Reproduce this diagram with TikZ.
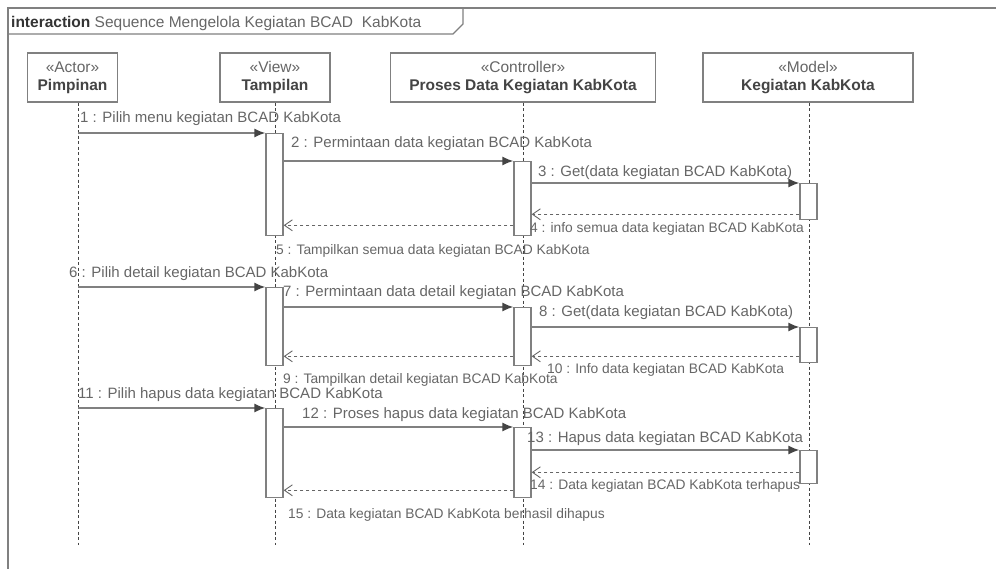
\documentclass[tikz,border=0pt]{standalone}
\usepackage{fontspec}
\setmainfont{Liberation Sans}
\usetikzlibrary{arrows.meta}
\definecolor{linegray}{HTML}{808080}
\definecolor{textgray}{HTML}{666666}
\definecolor{namegray}{HTML}{444444}

\begin{document}
\begin{tikzpicture}[x=1pt,y=-1pt,>=Latex]
\tikzstyle{frame}=[draw=linegray,line width=1.2pt]
\tikzstyle{obj}=[rectangle,draw=linegray,line width=1.3pt,fill=white,minimum height=49pt,align=center,inner sep=0pt,text=textgray,font=\fontsize{15.5}{18}\selectfont]
\tikzstyle{act}=[rectangle,draw=linegray,line width=1.3pt,fill=white,minimum width=17pt,inner sep=0pt,anchor=north]
\tikzstyle{life}=[draw=namegray,line width=0.8pt,dash pattern=on 3pt off 2.5pt]
\tikzstyle{call}=[draw=linegray,line width=1.4pt,-{Latex[length=11pt,width=9pt,color=namegray]}]
\tikzstyle{reply}=[draw=textgray,line width=1.3pt,dash pattern=on 3.5pt off 2.5pt,-{Straight Barb[length=8pt,width=11pt,line width=0.9pt]}]
\tikzstyle{lbl}=[anchor=base west,inner sep=0pt,text=textgray,font=\fontsize{15}{18}\selectfont]
\tikzstyle{lbls}=[lbl,font=\fontsize{13.8}{16}\selectfont]
\useasboundingbox (0,0) rectangle (996,569);

% frame
\draw[frame] (996,8) -| (8,569);
\draw[frame] (8,34) -- (453,34) -- (463,24) -- (463,8);
\node[lbl,font=\fontsize{15.5}{18}\selectfont,text=textgray] (title) at (11,27.5) {\textcolor{black!80}{\textbf{interaction}} Sequence Mengelola Kegiatan BCAD\ \ KabKota};

% lifelines
\node[obj,minimum width=90pt] (pimp) at (72.5,77.5) {«Actor»\\\textcolor{namegray}{\textbf{Pimpinan}}};
\node[obj,minimum width=110pt] (tamp) at (275,77.5) {«View»\\\textcolor{namegray}{\textbf{Tampilan}}};
\node[obj,minimum width=265pt] (proses) at (523,77.5) {«Controller»\\\textcolor{namegray}{\textbf{Proses Data Kegiatan KabKota}}};
\node[obj,minimum width=210pt] (model) at (808,77.5) {«Model»\\\textcolor{namegray}{\textbf{Kegiatan KabKota}}};
\coordinate (pimpEnd) at (78,545);
\coordinate (tampEnd) at (275.5,545);
\coordinate (prosesEnd) at (523,545);
\coordinate (modelEnd) at (809,545);
\draw[life] (pimpEnd |- pimp.south) -- (pimpEnd);
\draw[life] (tampEnd |- tamp.south) -- (tampEnd);
\draw[life] (prosesEnd |- proses.south) -- (prosesEnd);
\draw[life] (modelEnd |- model.south) -- (modelEnd);

% activations
\node[act,minimum height=102pt] (tA) at (274.5,133) {};
\node[act,minimum height=74pt] (pA) at (522.5,161) {};
\node[act,minimum height=36pt] (mA) at (808.5,183) {};
\node[act,minimum height=78pt] (tB) at (274.5,287) {};
\node[act,minimum height=58pt] (pB) at (522.5,307) {};
\node[act,minimum height=35pt] (mB) at (808.5,327) {};
\node[act,minimum height=89pt] (tC) at (274.5,408) {};
\node[act,minimum height=70pt] (pC) at (522.5,427) {};
\node[act,minimum height=33pt] (mC) at (808.5,450) {};

% tampil semua
\draw[call] (pimpEnd |- tA.north west) -- (tA.north west);
\draw[call] (pA.north west -| tA.east) -- (pA.north west);
\draw[call] (mA.north west -| pA.east) -- (mA.north west);
\draw[reply] ([yshift=6pt]mA.south west) -- ([yshift=6pt]mA.south west -| pA.east);
\draw[reply] ([yshift=11pt]pA.south west) -- ([yshift=11pt]pA.south west -| tA.east);
\node[lbl] (m1) at (80,123) {1 : Pilih menu kegiatan BCAD KabKota};
\node[lbl] (m2) at (291,148) {2 : Permintaan data kegiatan BCAD KabKota};
\node[lbl] (m3) at (538,177) {3 : Get(data kegiatan BCAD KabKota)};
\node[lbls] (m4) at (530,233) {4 : info semua data kegiatan BCAD KabKota};
\node[lbls] (m5) at (276,254.5) {5 : Tampilkan semua data kegiatan BCAD KabKota};

% tampil detail
\draw[call] (pimpEnd |- tB.north west) -- (tB.north west);
\draw[call] (pB.north west -| tB.east) -- (pB.north west);
\draw[call] (mB.north west -| pB.east) -- (mB.north west);
\draw[reply] ([yshift=7pt]mB.south west) -- ([yshift=7pt]mB.south west -| pB.east);
\draw[reply] ([yshift=10pt]pB.south west) -- ([yshift=10pt]pB.south west -| tB.east);
\node[lbl] (m6) at (69,278) {6 : Pilih detail kegiatan BCAD KabKota};
\node[lbl] (m7) at (283,297) {7 : Permintaan data detail kegiatan BCAD KabKota};
\node[lbl] (m8) at (539,317) {8 : Get(data kegiatan BCAD KabKota)};
\node[lbls] (m9) at (283,383) {9 : Tampilkan detail kegiatan BCAD KabKota};
\node[lbls] (m10) at (547,373) {10 : Info data kegiatan BCAD KabKota};

% hapus
\draw[call] (pimpEnd |- tC.north west) -- (tC.north west);
\draw[call] (pC.north west -| tC.east) -- (pC.north west);
\draw[call] (mC.north west -| pC.east) -- (mC.north west);
\draw[reply] ([yshift=12pt]mC.south west) -- ([yshift=12pt]mC.south west -| pC.east);
\draw[reply] ([yshift=8pt]pC.south west) -- ([yshift=8pt]pC.south west -| tC.east);
\node[lbl] (m11) at (78,398) {11 : Pilih hapus data kegiatan BCAD KabKota};
\node[lbl] (m12) at (302,418) {12 : Proses hapus data kegiatan BCAD KabKota};
\node[lbl] (m13) at (527,442) {13 : Hapus data kegiatan BCAD KabKota};
\node[lbls] (m14) at (530,489) {14 : Data kegiatan BCAD KabKota terhapus};
\node[lbls] (m15) at (288,518) {15 : Data kegiatan BCAD KabKota berhasil dihapus};
\end{tikzpicture}
\end{document}
